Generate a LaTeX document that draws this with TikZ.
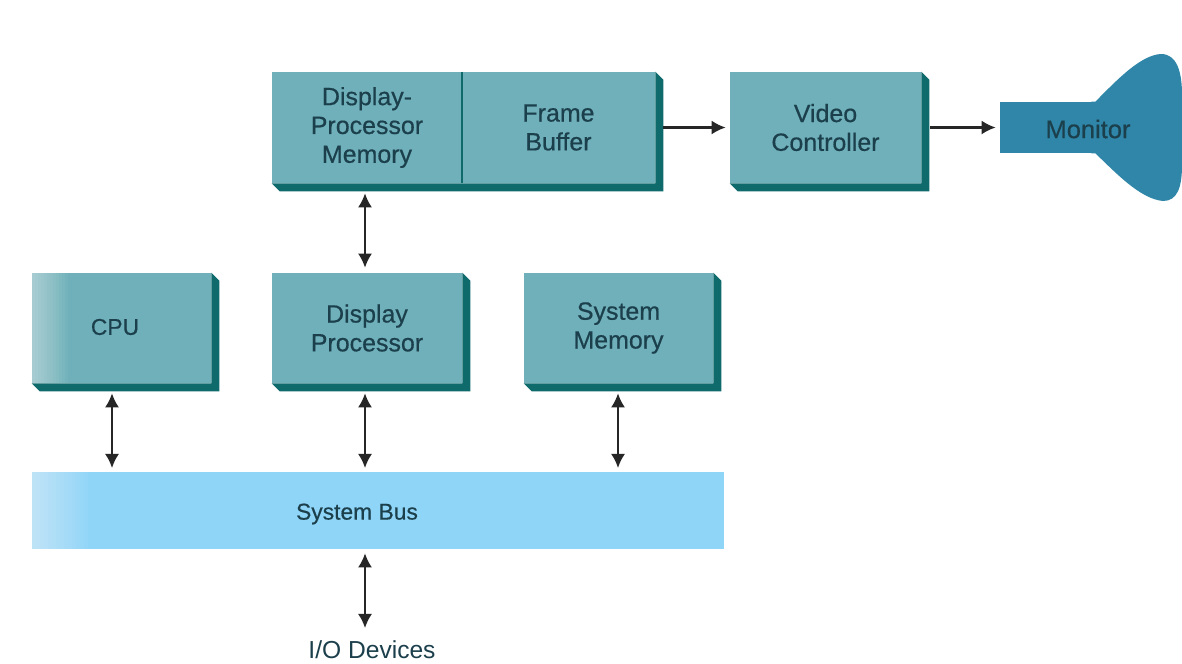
\documentclass[tikz,border=0pt]{standalone}
\usepackage{fontspec}
\setmainfont{Liberation Sans}
\newfontfamily\diagfont[FakeBold=0.5]{Liberation Sans}
\usetikzlibrary{arrows.meta}
\definecolor{boxfill}{HTML}{6FB0BA}
\definecolor{boxside}{HTML}{0F6A6C}
\definecolor{busfill}{HTML}{8FD5F7}
\definecolor{monfill}{HTML}{2F86A8}
\definecolor{labelcol}{HTML}{1C3F4C}

\begin{document}
\begin{tikzpicture}
      [%%%%%%%%%%%%%%%%%%%%%%%%%%%%%%
      x=0.02cm,y=-0.02cm,
      box/.style={rectangle,fill=boxfill,inner sep=0pt,align=center,text=labelcol,
        font=\diagfont\fontsize{14.2}{16.4}\selectfont},
      side/.style={fill=boxside},
      caption/.style={text=labelcol,inner sep=0pt,font=\diagfont\fontsize{13}{16}\selectfont},
      link/.style={draw=black!85,line width=1.2pt,
        {Latex[length=8pt,width=8pt]}-{Latex[length=8pt,width=8pt]}},
      feed/.style={draw=black!85,line width=1.3pt,-{Latex[length=8pt,width=8pt]}},
      fade/.style={white,opacity=0.045},
      ]%%%%%%%%%%%%%%%%%%%%%%%%%%%%%%
      \useasboundingbox (0,0) rectangle (1182,663);
      \fill[white] (0,0) rectangle (1182,663);

      % top row
      \node[box,minimum width=190*0.02cm,minimum height=111*0.02cm] (dpmem) at (367,127.5)
        {Display-\\Processor\\Memory};
      \node[box,minimum width=193*0.02cm,minimum height=111*0.02cm] (fbuf) at (558.5,127.5)
        {Frame\\Buffer};
      \node[box,minimum width=191*0.02cm,minimum height=111*0.02cm] (video) at (825.5,127.5)
        {Video\\Controller};

      % middle row
      \node[box,minimum width=179*0.02cm,minimum height=110*0.02cm] (cpu) at (121.5,328)
        {};
      \node[box,minimum width=190*0.02cm,minimum height=110*0.02cm] (dproc) at (367,328)
        {Display\\Processor};
      \node[box,minimum width=189*0.02cm,minimum height=110*0.02cm] (smem) at (618.5,328)
        {System\\Memory};

      % the bevel on the right and below each box
      \foreach \a/\b in {dpmem/fbuf,video/video,cpu/cpu,dproc/dproc,smem/smem}{
        \fill[side] (\a.south west) -- ([shift={(8,8)}]\a.south west)
          -- ([shift={(8,8)}]\b.south east) -- ([shift={(8,8)}]\b.north east)
          -- (\b.north east) -- (\b.south east) -- cycle;
      }
      \draw[boxside,line width=1.1pt] (dpmem.north east) -- (dpmem.south east);

      % left edges fade out on the page
      \foreach \w in {3,6,...,36}
        \fill[fade] (cpu.north west) rectangle ([xshift=\w*0.02cm]cpu.south west);
      \node[caption] (cpulabel) at (115,327) {CPU};

      % bus
      \node[rectangle,fill=busfill,inner sep=0pt,
        minimum width=692*0.02cm,minimum height=77*0.02cm] (bus) at (378,510.5) {};
      \foreach \w in {4,8,...,56}
        \fill[fade] (bus.north west) rectangle ([xshift=\w*0.02cm]bus.south west);
      \node[caption] (buslabel) at (357,514) {System Bus};

      % monitor
      \node[rectangle,fill=monfill,inner sep=0pt,minimum width=95*0.02cm,minimum height=51*0.02cm] (neck) at (1047.5,127.5) {};
      \fill[monfill] (neck.north east) .. controls (1115,82) and (1140,55) .. (1161,54)
        .. controls (1177,54) and (1182,72) .. (1182,95)
        -- (1182,165) .. controls (1182,188) and (1177,201) .. (1163,201)
        .. controls (1140,199) and (1115,172) .. (neck.south east)
        -- ([xshift=-4*0.02cm]neck.south east) -- ([xshift=-4*0.02cm]neck.north east) -- cycle;
      \node[caption,font=\diagfont\fontsize{14.5}{18}\selectfont] (monlabel) at (1088,129) {Monitor};

      \node[caption,font=\fontsize{14}{18}\selectfont] (io) at (372,650) {I/O Devices};

      % connectors
      \draw[feed] ([xshift=8pt*0.5669]fbuf.east) -- ([xshift=-4pt*0.5669]video.west);
      \draw[feed] ([xshift=9pt*0.5669]video.east) -- ([xshift=-4pt*0.5669]neck.west);

      \coordinate (busa) at (112,472);
      \coordinate (busb) at (365,472);
      \coordinate (busc) at (618,472);
      \coordinate (iotop) at (365,636);

      \draw[link,shorten <=10pt*0.5669,shorten >=5pt*0.5669] (dpmem.south -| busb) -- (dproc.north -| busb);
      \draw[link,shorten <=10pt*0.5669,shorten >=4pt*0.5669] (cpu.south -| busa) -- (busa);
      \draw[link,shorten <=10pt*0.5669,shorten >=4pt*0.5669] (dproc.south -| busb) -- (busb);
      \draw[link,shorten <=10pt*0.5669,shorten >=4pt*0.5669] (smem.south -| busc) -- (busc);
      \draw[link,shorten <=4pt*0.5669,shorten >=8pt*0.5669] (bus.south -| iotop) -- (iotop);
    \end{tikzpicture}
\end{document}
